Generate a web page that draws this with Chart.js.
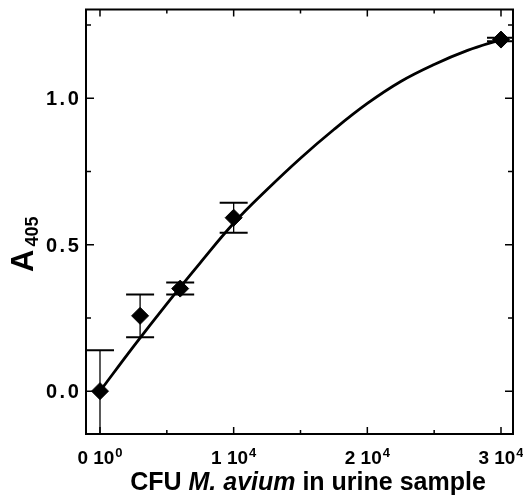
<!DOCTYPE html>
<html>
<head>
<meta charset="utf-8">
<script src="https://cdn.jsdelivr.net/npm/chart.js@4.4.1/dist/chart.umd.min.js"></script>
<style>
  html, body { margin: 0; padding: 0; background: #fff; }
  #wrap { width: 523px; height: 497px; }
</style>
</head>
<body>
<div id="wrap"><canvas id="chart" width="523" height="497"></canvas></div>
<script>
// measured points (CFU, A405) and their error bars
const pointX = [0, 3000, 6000, 10000, 30000];
const pointY = [0.0, 0.257, 0.35, 0.592, 1.20];
const errUp = [0.14, 0.073, 0.021, 0.051, 0.006];
const errDown = [0.17, 0.073, 0.02, 0.051, 0.006];

// fitted curve
const curveX = [0, 2500, 5000, 7500, 10000, 12500, 15000, 17500, 20000, 22500, 25000, 27500, 30000];
const curveY = [0.0, 0.152, 0.298, 0.438, 0.573, 0.688, 0.795, 0.893, 0.982, 1.057, 1.115, 1.163, 1.20];

// axis ticks
const xMajor = [0, 10000, 20000, 30000];
const xMinor = [5000, 15000, 25000];
const xTickBase = ['0 10', '1 10', '2 10', '3 10'];
const xTickExp = ['0', '4', '4', '4'];
const yMajor = [0, 0.5, 1.0];
const yMinor = [0.25, 0.75, 1.25];
const yTickLabels = ['0.0', '0.5', '1.0'];

const FONT = '"Liberation Sans", Arial, Helvetica, sans-serif';

// frame, inward ticks, labels and titles
const decor = {
    id: 'decor',
    beforeDatasetsDraw(chart) {
        const ctx = chart.ctx;
        const a = chart.chartArea;
        const xs = chart.scales.x, ys = chart.scales.y;
        ctx.save();
        ctx.beginPath();
        ctx.rect(a.left, a.top, a.right - a.left, a.bottom - a.top);
        ctx.clip();
        ctx.strokeStyle = '#000';
        pointX.forEach((x, i) => {
            const px = xs.getPixelForValue(x);
            const top = ys.getPixelForValue(pointY[i] + errUp[i]);
            const bot = ys.getPixelForValue(pointY[i] - errDown[i]);
            ctx.lineWidth = 1.3;
            ctx.beginPath();
            ctx.moveTo(px, top);
            ctx.lineTo(px, bot);
            ctx.stroke();
            ctx.lineWidth = 2;
            ctx.beginPath();
            ctx.moveTo(px - 14, top); ctx.lineTo(px + 14, top);
            ctx.moveTo(px - 14, bot); ctx.lineTo(px + 14, bot);
            ctx.stroke();
        });
        ctx.restore();
    },
    afterDraw(chart) {
        const ctx = chart.ctx;
        const a = chart.chartArea;
        const xs = chart.scales.x, ys = chart.scales.y;
        ctx.save();
        ctx.strokeStyle = '#000';
        ctx.fillStyle = '#000';

        // frame
        ctx.lineWidth = 2;
        ctx.strokeRect(a.left, a.top, a.right - a.left, a.bottom - a.top);

        // ticks on all four sides, pointing in
        ctx.lineWidth = 1.5;
        ctx.beginPath();
        const xt = (v, len) => {
            const p = xs.getPixelForValue(v);
            ctx.moveTo(p, a.bottom); ctx.lineTo(p, a.bottom - len);
            ctx.moveTo(p, a.top); ctx.lineTo(p, a.top + len);
        };
        const yt = (v, len) => {
            const p = ys.getPixelForValue(v);
            ctx.moveTo(a.left, p); ctx.lineTo(a.left + len, p);
            ctx.moveTo(a.right, p); ctx.lineTo(a.right - len, p);
        };
        xMajor.forEach(v => xt(v, 7));
        xMinor.forEach(v => xt(v, 4));
        yMajor.forEach(v => yt(v, 8));
        yMinor.forEach(v => yt(v, 5));
        ctx.stroke();

        // y tick labels
        ctx.font = 'bold 20px ' + FONT;
        ctx.letterSpacing = '2.5px';
        ctx.textAlign = 'left';
        ctx.textBaseline = 'alphabetic';
        yMajor.forEach((v, i) => {
            ctx.fillText(yTickLabels[i], 46, ys.getPixelForValue(v) + 7);
        });
        ctx.letterSpacing = '0px';

        // x tick labels with exponents
        xMajor.forEach((v, i) => {
            const p = xs.getPixelForValue(v);
            ctx.font = 'bold 19px ' + FONT;
            const w1 = ctx.measureText(xTickBase[i]).width;
            ctx.font = 'bold 13px ' + FONT;
            const w2 = ctx.measureText(xTickExp[i]).width;
            const x0 = p - (w1 + w2 + 1) / 2;
            ctx.font = 'bold 19px ' + FONT;
            ctx.fillText(xTickBase[i], x0, 464);
            ctx.font = 'bold 13px ' + FONT;
            ctx.fillText(xTickExp[i], x0 + w1 + 1, 457);
        });

        // x title, italic species name
        const parts = [
            ['CFU ', 'bold 25px '],
            ['M. avium', 'italic bold 25px '],
            [' in urine sample', 'bold 25px ']
        ];
        let total = 0;
        parts.forEach(p => { ctx.font = p[1] + FONT; total += ctx.measureText(p[0]).width; });
        let tx = 308 - total / 2;
        parts.forEach(p => {
            ctx.font = p[1] + FONT;
            ctx.fillText(p[0], tx, 490);
            tx += ctx.measureText(p[0]).width;
        });

        // y title A405
        ctx.translate(33, 272);
        ctx.rotate(-Math.PI / 2);
        ctx.font = 'bold 31px ' + FONT;
        ctx.fillText('A', 0, 0);
        const wa = ctx.measureText('A').width;
        ctx.font = 'bold 18px ' + FONT;
        ctx.fillText('405', wa + 3, 5);
        ctx.restore();
    }
};

new Chart(document.getElementById('chart'), {
    type: 'scatter',
    data: {
        datasets: [
            {
                label: 'fit',
                data: curveX.map((x, i) => ({ x: x, y: curveY[i] })),
                showLine: true,
                borderColor: '#000',
                borderWidth: 2.8,
                pointRadius: 0,
                tension: 0.4,
                fill: false
            },
            {
                label: 'A405',
                data: pointX.map((x, i) => ({ x: x, y: pointY[i] })),
                showLine: false,
                pointStyle: 'rectRot',
                pointRadius: 8.5,
                pointHoverRadius: 8.5,
                backgroundColor: '#000',
                borderColor: '#000',
                borderWidth: 1
            }
        ]
    },
    options: {
        responsive: false,
        animation: false,
        events: [],
        layout: { padding: { top: 8, right: 10, left: 0, bottom: 0 } },
        plugins: {
            legend: { display: false },
            tooltip: { enabled: false }
        },
        scales: {
            x: {
                type: 'linear',
                min: -1047,
                max: 30898,
                ticks: { display: false },
                grid: { display: false },
                border: { display: false },
                afterFit: s => { s.height = 63; }
            },
            y: {
                type: 'linear',
                min: -0.1463,
                max: 1.3027,
                ticks: { display: false },
                grid: { display: false },
                border: { display: false },
                afterFit: s => { s.width = 86; }
            }
        }
    },
    plugins: [decor]
});
</script>
</body>
</html>
